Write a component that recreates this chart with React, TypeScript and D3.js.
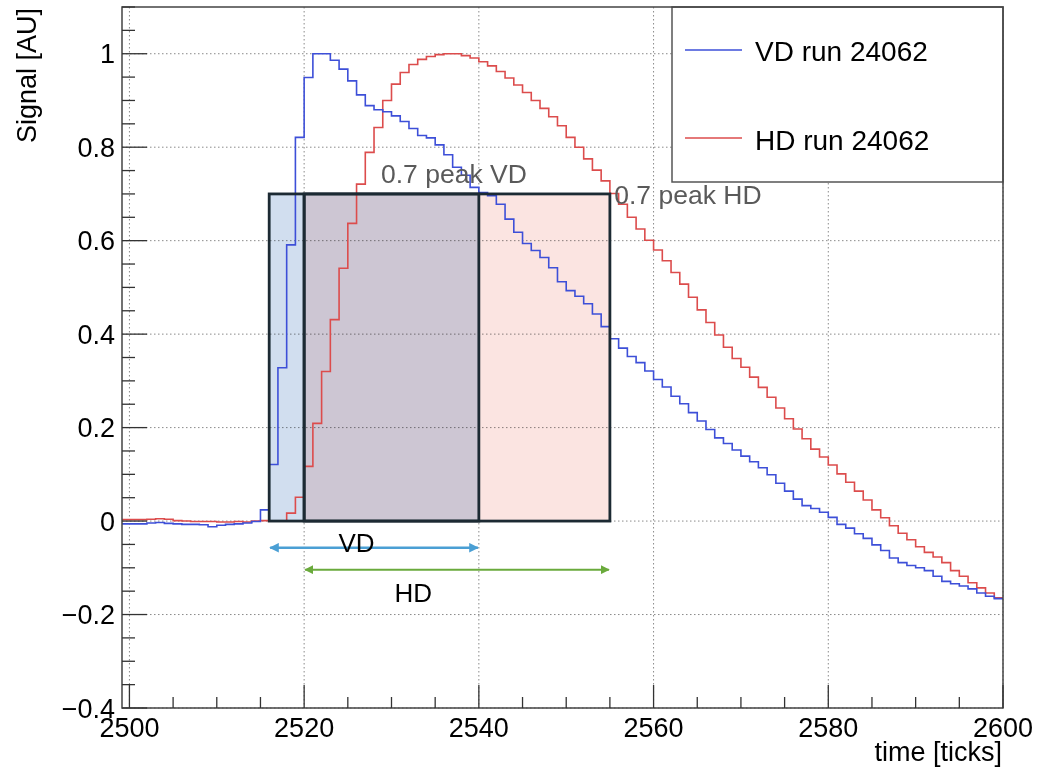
import React from 'react';
import * as d3 from 'd3';

// ---- data (bins are [t, t+1) starting at binStart) ----
const binStart = 2499;
const vdValues = [
  -0.006, -0.006, -0.006, -0.004, -0.003, -0.005, -0.006, -0.007, -0.007, -0.008,
  -0.012, -0.009, -0.007, -0.006, -0.004, -0.001, 0.024, 0.121, 0.328, 0.591,
  0.821, 0.949, 1.0, 1.0, 0.986, 0.967, 0.942, 0.912, 0.889, 0.880,
  0.876, 0.867, 0.855, 0.840, 0.825, 0.820, 0.805, 0.784, 0.757, 0.740,
  0.714, 0.703, 0.696, 0.678, 0.646, 0.618, 0.594, 0.579, 0.564, 0.542,
  0.512, 0.493, 0.481, 0.465, 0.443, 0.416, 0.390, 0.370, 0.352, 0.339,
  0.321, 0.303, 0.287, 0.267, 0.251, 0.232, 0.214, 0.196, 0.178, 0.166,
  0.152, 0.139, 0.127, 0.114, 0.099, 0.081, 0.064, 0.047, 0.033, 0.027,
  0.019, 0.008, -0.007, -0.015, -0.027, -0.037, -0.051, -0.063, -0.079, -0.089,
  -0.095, -0.100, -0.106, -0.118, -0.129, -0.134, -0.139, -0.145, -0.154, -0.161,
  -0.166,
];
const hdValues = [
  0.003, 0.003, 0.003, 0.004, 0.005, 0.004, 0.001, 0.0, -0.001, -0.001,
  -0.001, -0.002, -0.002, -0.001, -0.002, 0.0, 0.001, 0.0, 0.0, 0.017,
  0.051, 0.117, 0.209, 0.320, 0.431, 0.541, 0.637, 0.721, 0.789, 0.842,
  0.900, 0.935, 0.960, 0.977, 0.988, 0.994, 0.998, 1.0, 1.0, 0.996,
  0.991, 0.983, 0.974, 0.962, 0.948, 0.933, 0.917, 0.900, 0.883, 0.865,
  0.846, 0.821, 0.800, 0.775, 0.751, 0.728, 0.701, 0.678, 0.650, 0.625,
  0.601, 0.580, 0.557, 0.532, 0.507, 0.479, 0.452, 0.425, 0.398, 0.372,
  0.348, 0.329, 0.308, 0.286, 0.265, 0.242, 0.219, 0.197, 0.176, 0.154,
  0.137, 0.120, 0.101, 0.083, 0.064, 0.045, 0.024, 0.007, -0.010, -0.026,
  -0.040, -0.055, -0.067, -0.077, -0.089, -0.106, -0.118, -0.132, -0.143, -0.154,
  -0.164,
];
const xTickLabels = [2500, 2520, 2540, 2560, 2580, 2600];
const yTickLabels = [-0.4, -0.2, 0, 0.2, 0.4, 0.6, 0.8, 1];
const seriesNames = ['VD run 24062', 'HD run 24062'];
const vdWindow = [2516, 2540];
const hdWindow = [2520, 2555];
const peakFraction = 0.7;
const peakLabels = ['0.7 peak VD', '0.7 peak HD'];
const arrowLabels = ['VD', 'HD'];

const W = 1038;
const H = 773;
const FL = 122, FR = 1003, FT = 7, FB = 708;
const FONT = '"Liberation Sans", Arial, Helvetica, sans-serif';
const BLUE = '#3d4fd8';
const RED = '#dc4c4c';

export default function App() {
  const x = d3.scaleLinear().domain([2499.15, 2600]).range([FL, FR]);
  const y = d3.scaleLinear().domain([-0.4, 1.1]).range([FB, FT]);

  const toPts = (vals: number[]) => {
    const pts: [number, number][] = vals.map((v, i) => [binStart + i, v]);
    pts.push([binStart + vals.length, vals[vals.length - 1]]);
    return pts;
  };
  const line = d3
    .line<[number, number]>()
    .x((d) => x(d[0]))
    .y((d) => y(d[1]))
    .curve(d3.curveStepAfter);

  const xMinor = d3.range(2500, 2601, 5).filter((t) => t % 20 !== 0);
  const yMinor = d3.range(-0.4, 1.1001, 0.05).map((v) => Math.round(v * 100) / 100)
    .filter((v) => Math.abs(Math.round(v * 10) - v * 10) > 1e-6 || Math.round(v * 10) % 2 !== 0);

  const fmtY = (v: number) => (v < 0 ? '\u2212' + Math.abs(v).toString() : v.toString());

  const ov = [Math.max(vdWindow[0], hdWindow[0]), Math.min(vdWindow[1], hdWindow[1])];

  const arrowY = [-0.057, -0.104];

  return (
    <svg
      width={W}
      height={H}
      style={{ position: 'absolute', left: 0, top: 0, background: '#fff' }}
      fontFamily={FONT}
    >
      <defs>
        <clipPath id="frame">
          <rect x={FL} y={FT} width={FR - FL} height={FB - FT} />
        </clipPath>
        <marker id="ab" viewBox="0 0 10 10" refX="9" refY="5" markerWidth="4" markerHeight="4" orient="auto-start-reverse">
          <path d="M0,0 L10,5 L0,10 z" fill="#4a9fd4" />
        </marker>
        <marker id="ag" viewBox="0 0 10 10" refX="9" refY="5" markerWidth="4.5" markerHeight="4.5" orient="auto-start-reverse">
          <path d="M0,0 L10,5 L0,10 z" fill="#6aaa3c" />
        </marker>
      </defs>
      <rect x={0} y={0} width={W} height={H} fill="#fff" />

      {/* grid */}
      <g stroke="#8a8a8a" strokeWidth={1} strokeDasharray="1.5,2.5">
        {xTickLabels.map((t) => (
          <line key={'gx' + t} x1={x(t)} x2={x(t)} y1={FT} y2={FB} />
        ))}
        {yTickLabels.map((v) => (
          <line key={'gy' + v} x1={FL} x2={FR} y1={y(v)} y2={y(v)} />
        ))}
      </g>

      {/* window boxes fills */}
      <g>
        <rect x={x(vdWindow[0])} y={y(peakFraction)} width={x(vdWindow[1]) - x(vdWindow[0])}
          height={y(0) - y(peakFraction)} fill="#d1deef" style={{ mixBlendMode: 'multiply' }} />
        <rect x={x(hdWindow[0])} y={y(peakFraction)} width={x(hdWindow[1]) - x(hdWindow[0])}
          height={y(0) - y(peakFraction)} fill="#fbe4e1" style={{ mixBlendMode: 'multiply' }} />
      </g>

      {/* histograms */}
      <g clipPath="url(#frame)" fill="none" strokeWidth={1.6}>
        <path d={line(toPts(hdValues)) || ''} stroke={RED} />
        <path d={line(toPts(vdValues)) || ''} stroke={BLUE} />
      </g>

      {/* window boxes strokes */}
      <g fill="none" stroke="#1c2a33" strokeWidth={2.8}>
        <rect x={x(vdWindow[0])} y={y(peakFraction)} width={x(vdWindow[1]) - x(vdWindow[0])}
          height={y(0) - y(peakFraction)} />
        <rect x={x(hdWindow[0])} y={y(peakFraction)} width={x(hdWindow[1]) - x(hdWindow[0])}
          height={y(0) - y(peakFraction)} />
        <line x1={x(ov[0])} x2={x(ov[0])} y1={y(peakFraction)} y2={y(0)} />
      </g>

      {/* peak labels */}
      <text x={x(2528.8)} y={y(0.724)} fontSize={26.5} fill="#5a5a5a">{peakLabels[0]}</text>
      <text x={x(2555.5)} y={y(0.679)} fontSize={26.5} fill="#5a5a5a">{peakLabels[1]}</text>

      {/* arrows */}
      <line x1={x(vdWindow[0]) + 1} x2={x(vdWindow[1]) - 1} y1={y(arrowY[0])} y2={y(arrowY[0])}
        stroke="#4a9fd4" strokeWidth={2.4} markerStart="url(#ab)" markerEnd="url(#ab)" />
      <line x1={x(hdWindow[0]) + 1} x2={x(hdWindow[1]) - 1} y1={y(arrowY[1])} y2={y(arrowY[1])}
        stroke="#6aaa3c" strokeWidth={2} markerStart="url(#ag)" markerEnd="url(#ag)" />
      <text x={x(2526)} y={y(-0.067)} fontSize={26} textAnchor="middle" fill="#000">{arrowLabels[0]}</text>
      <text x={x(2532.5)} y={y(-0.174)} fontSize={26} textAnchor="middle" fill="#000">{arrowLabels[1]}</text>

      {/* legend */}
      <rect x={672} y={FT} width={FR - 672} height={182 - FT} fill="#fff" stroke="#555" strokeWidth={1.5} />
      <line x1={685} x2={742} y1={50} y2={50} stroke={BLUE} strokeWidth={1.5} />
      <line x1={685} x2={742} y1={138} y2={138} stroke={RED} strokeWidth={1.5} />
      <text x={755} y={61} fontSize={28} fill="#000">{seriesNames[0]}</text>
      <text x={755} y={150} fontSize={28} fill="#000">{seriesNames[1]}</text>

      {/* frame */}
      <rect x={FL} y={FT} width={FR - FL} height={FB - FT} fill="none" stroke="#444" strokeWidth={1.5} />

      {/* ticks */}
      <g stroke="#333" strokeWidth={1.3}>
        {xTickLabels.map((t) => (
          <line key={'xt' + t} x1={x(t)} x2={x(t)} y1={FB} y2={FB - 23} />
        ))}
        {xMinor.map((t) => (
          <line key={'xm' + t} x1={x(t)} x2={x(t)} y1={FB} y2={FB - 11} />
        ))}
        {yTickLabels.map((v) => (
          <line key={'yt' + v} x1={FL} x2={FL + 25} y1={y(v)} y2={y(v)} />
        ))}
        {yMinor.map((v) => (
          <line key={'ym' + v} x1={FL} x2={FL + 13} y1={y(v)} y2={y(v)} />
        ))}
      </g>

      {/* tick labels */}
      <g fontSize={27} fill="#000">
        {xTickLabels.map((t) => (
          <text key={'xl' + t} x={x(t)} y={737} textAnchor="middle">{t}</text>
        ))}
        {yTickLabels.map((v) => (
          <text key={'yl' + v} x={115} y={y(v) + 9.5} textAnchor="end">{fmtY(v)}</text>
        ))}
      </g>

      {/* axis titles */}
      <text x={1002} y={761} fontSize={27} textAnchor="end" fill="#000">time [ticks]</text>
      <text transform="translate(36,8) rotate(-90)" fontSize={27} textAnchor="end" fill="#000">Signal [AU]</text>
    </svg>
  );
}
